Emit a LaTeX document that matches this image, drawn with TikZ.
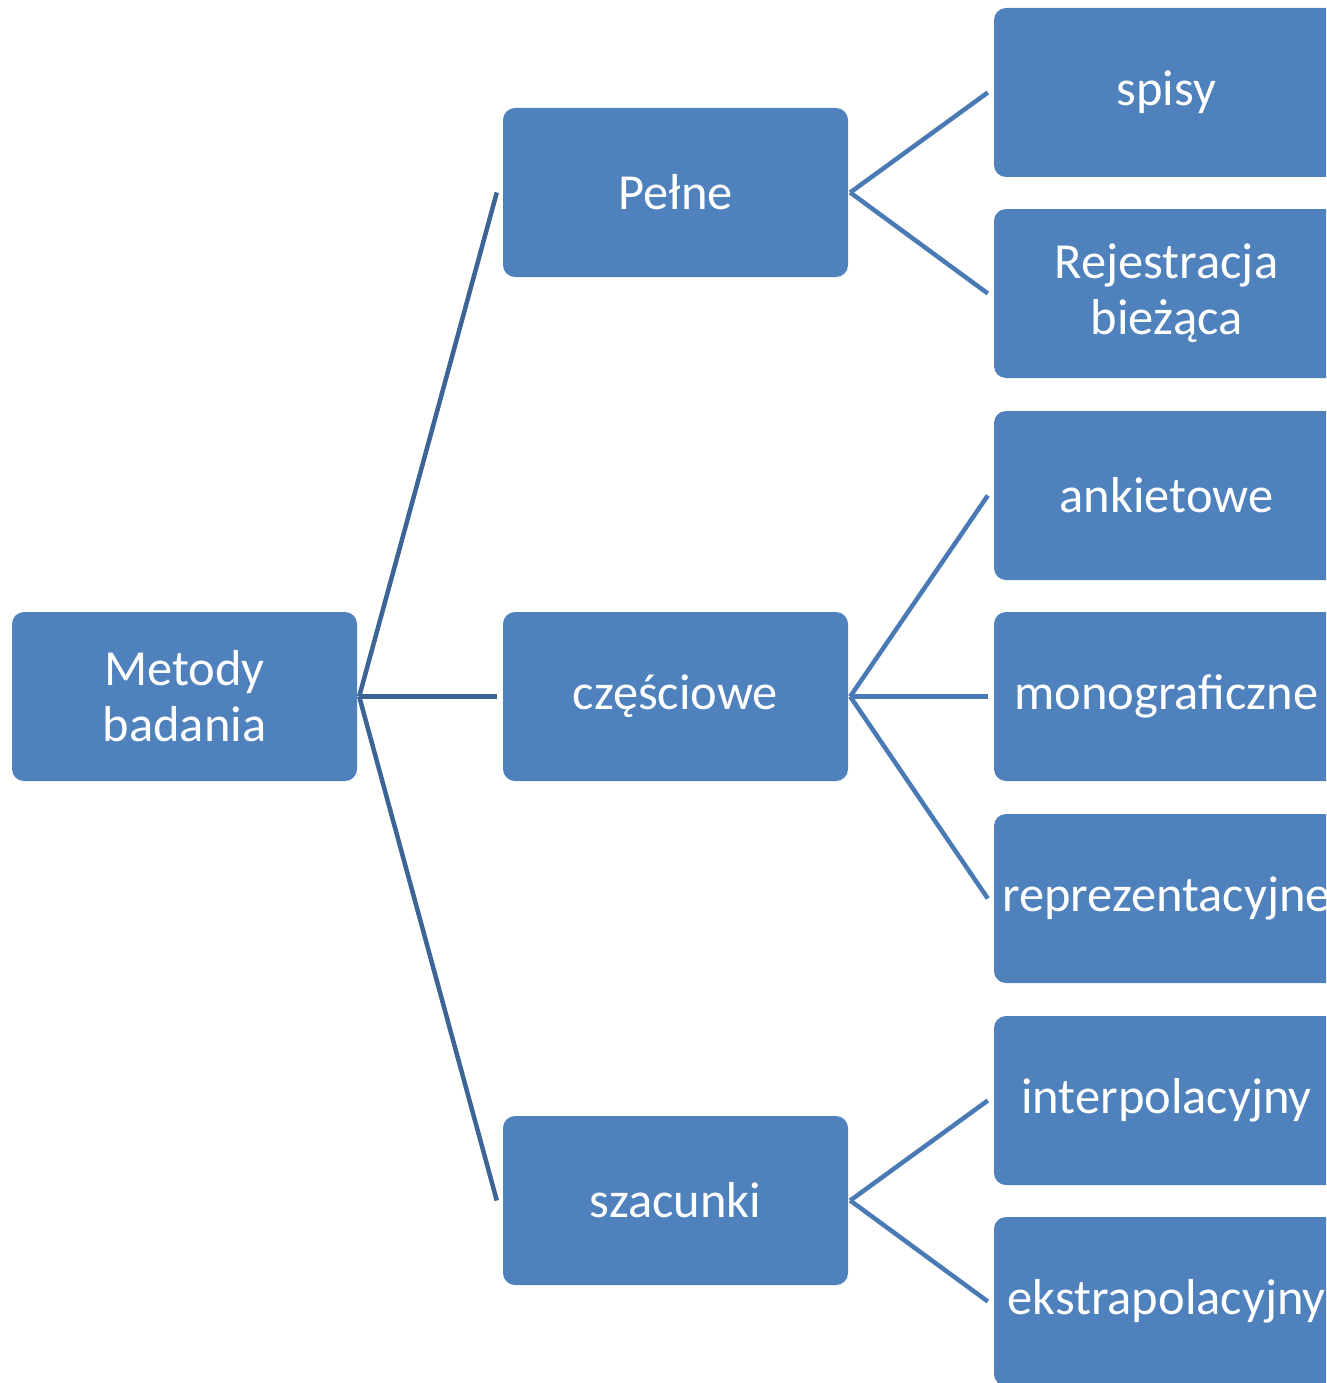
\documentclass[tikz,border=0pt]{standalone}
\usepackage{fontspec}
\setmainfont{Carlito}
\definecolor{boxblue}{HTML}{4F81BD}
\definecolor{rootline}{HTML}{3C6494}
\definecolor{subline}{HTML}{4A7AB6}
\begin{document}
\begin{tikzpicture}[x=1pt,y=-1pt,
  box/.style={rectangle, rounded corners=12pt, fill=boxblue, draw=none,
    minimum width=345pt, minimum height=169pt, inner sep=0pt,
    text=white, align=center, font=\fontsize{50.5}{56}\selectfont},
  rootlink/.style={draw=rootline, line width=4.5pt},
  sublink/.style={draw=subline, line width=4.5pt}]
\useasboundingbox (0,0) rectangle (1326,1383);
\clip (0,0) rectangle (1326,1383);

% root
\node[box] (root) at (184.5,696.5) {Metody\\badania};

% second level
\node[box] (pelne) at (675.5,192.5) {Pełne};
\node[box] (czesc) at (675.5,696.5) {częściowe};
\node[box] (szac)  at (675.5,1200.5) {szacunki};

% third level
\node[box] (spisy) at (1166.5,92.5)  {spisy};
\node[box] (rejes) at (1166.5,293.5) {Rejestracja\\bieżąca};
\node[box] (ankie) at (1166.5,495.5) {ankietowe};
\node[box] (monog) at (1166.5,696.5) {monograficzne};
\node[box] (repre) at (1166.5,898.5) {reprezentacyjne};
\node[box] (inter) at (1166.5,1100.5) {interpolacyjny};
\node[box] (ekstr) at (1166.5,1301.5) {ekstrapolacyjny};

% branch points
\coordinate (rootfork)  at ([xshift=2pt]root.east);
\coordinate (pelnefork) at ([xshift=2pt]pelne.east);
\coordinate (czescfork) at ([xshift=2pt]czesc.east);
\coordinate (szacfork)  at ([xshift=2pt]szac.east);

% connectors
\draw[rootlink] (rootfork) -- ([xshift=-6pt]pelne.west);
\draw[rootlink] (rootfork) -- ([xshift=-6pt]czesc.west);
\draw[rootlink] (rootfork) -- ([xshift=-6pt]szac.west);

\draw[sublink] (pelnefork) -- ([xshift=-6pt]spisy.west);
\draw[sublink] (pelnefork) -- ([xshift=-6pt]rejes.west);
\draw[sublink] (czescfork) -- ([xshift=-6pt]ankie.west);
\draw[sublink] (czescfork) -- ([xshift=-6pt]monog.west);
\draw[sublink] (czescfork) -- ([xshift=-6pt]repre.west);
\draw[sublink] (szacfork) -- ([xshift=-6pt]inter.west);
\draw[sublink] (szacfork) -- ([xshift=-6pt]ekstr.west);
\end{tikzpicture}
\end{document}
